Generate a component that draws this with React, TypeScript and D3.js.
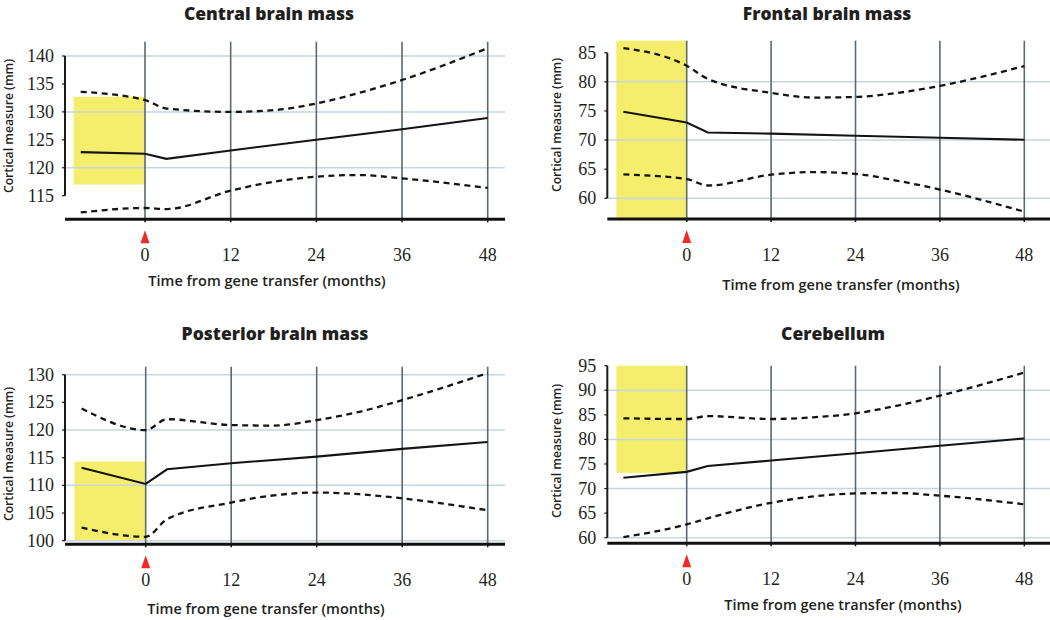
import React from "react";
import * as d3 from "d3";

// months for the mean line and for the dashed bounds
const meanMonths = [-9, 0, 3, 12, 24, 36, 48];
const bandMonths = [-9, 0, 3, 12, 18, 24, 30, 36, 48];
const xTicks = [0, 12, 24, 36, 48];

const titles = ["Central brain mass", "Frontal brain mass", "Posterior brain mass", "Cerebellum"];

const centralMean = [122.8, 122.5, 121.6, 123.1, 125.0, 126.9, 128.9];
const centralUpper = [133.6, 132.1, 130.6, 130.0, 130.3, 131.5, 133.4, 135.7, 141.4];
const centralLower = [112.0, 112.8, 112.6, 115.9, 117.5, 118.4, 118.7, 118.1, 116.4];

const frontalMean = [74.85, 73.0, 71.3, 71.1, 70.75, 70.4, 70.05];
const frontalUpper = [85.8, 82.75, 80.5, 78.1, 77.3, 77.4, 78.1, 79.3, 82.7];
const frontalLower = [64.1, 63.3, 62.2, 64.05, 64.5, 64.2, 63.0, 61.5, 57.7];

const posteriorMean = [113.2, 110.25, 112.9, 114.0, 115.2, 116.6, 117.85];
const posteriorUpper = [123.9, 120.0, 121.95, 120.9, 120.8, 121.8, 123.3, 125.4, 130.3];
const posteriorLower = [102.35, 100.7, 103.9, 106.9, 108.2, 108.7, 108.4, 107.65, 105.5];

const cerebellumMean = [72.2, 73.4, 74.6, 75.7, 77.2, 78.7, 80.2];
const cerebellumUpper = [84.3, 84.15, 84.75, 84.15, 84.5, 85.3, 86.9, 88.9, 93.6];
const cerebellumLower = [60.1, 62.7, 63.95, 67.1, 68.4, 69.0, 69.1, 68.55, 66.8];

// y tick ranges [min, max] (step 5) and pre-treatment shaded band [from month, to month, low, high]
const yTickRanges = [[115, 140], [60, 85], [100, 130], [60, 95]];
const shadeBands = [
  [-10, 0, 117, 132.7],
  [-10, 0, 56.4, 87.1],
  [-10, 0, 100, 114.3],
  [-10, 0, 73.2, 95],
];

const series = [
  { mean: centralMean, upper: centralUpper, lower: centralLower },
  { mean: frontalMean, upper: frontalUpper, lower: frontalLower },
  { mean: posteriorMean, upper: posteriorUpper, lower: posteriorLower },
  { mean: cerebellumMean, upper: cerebellumUpper, lower: cerebellumLower },
];

// pixel layout for each panel
const layout = [
  { axisX: 65, x0: 145, x48: 487.7, right: 505, yLoPx: 195.7, yHiPx: 56, top: 41.7, bottom: 219.3,
    titleX: 269, titleY: 20, xTitleX: 267, xTitleY: 286, yTitleX: 13, yTitleY: 126 },
  { axisX: 607.3, x0: 686.7, x48: 1024.3, right: 1050, yLoPx: 198.3, yHiPx: 52.7, top: 40.7, bottom: 219,
    titleX: 827, titleY: 20, xTitleX: 841, xTitleY: 290, yTitleX: 561, yTitleY: 125 },
  { axisX: 65, x0: 145.7, x48: 487.7, right: 505, yLoPx: 540.7, yHiPx: 374.7, top: 366.7, bottom: 544.3,
    titleX: 275, titleY: 340, xTitleX: 266, xTitleY: 614, yTitleX: 13, yTitleY: 454 },
  { axisX: 607.3, x0: 686.7, x48: 1024.3, right: 1050, yLoPx: 537.7, yHiPx: 365.7, top: 365.7, bottom: 543.3,
    titleX: 833, titleY: 340, xTitleX: 843, xTitleY: 610, yTitleX: 561, yTitleY: 451 },
];

const sans = "'Open Sans', 'DejaVu Sans', sans-serif";
const serif = "'Liberation Serif', 'DejaVu Serif', serif";

function Panel({ i }: { i: number }) {
  const L = layout[i];
  const [lo, hi] = yTickRanges[i];
  const s = series[i];
  const x = d3.scaleLinear().domain([0, 48]).range([L.x0, L.x48]);
  const y = d3.scaleLinear().domain([lo, hi]).range([L.yLoPx, L.yHiPx]);
  const yTicks = d3.range(lo, hi + 0.1, 5);
  const grid = yTicks.filter((v) => v % 10 === 0);

  const meanLine = d3.line<number>().x((_, k) => x(meanMonths[k])).y((v) => y(v));
  const bandLine = d3
    .line<number>()
    .x((_, k) => x(bandMonths[k]))
    .y((v) => y(v))
    .curve(d3.curveMonotoneX);

  const [m0, m1, b0, b1] = shadeBands[i];
  const shadeTop = Math.max(y(b1), L.top);
  const shadeBot = Math.min(y(b0), L.bottom);

  return (
    <g>
      <text x={L.titleX} y={L.titleY} textAnchor="middle" fontFamily={sans} fontWeight={800}
        fontSize={17.5} fill="#231f20">{titles[i]}</text>
      <rect x={x(m0)} y={shadeTop} width={x(m1) - x(m0)} height={shadeBot - shadeTop} fill="#f5ee6c" />
      {grid.map((v) => (
        <line key={"h" + v} x1={L.axisX} x2={L.right} y1={y(v)} y2={y(v)} stroke="#c7d5de" strokeWidth={1.5} />
      ))}
      {xTicks.map((t) => (
        <line key={"v" + t} x1={x(t)} x2={x(t)} y1={L.top} y2={L.bottom} stroke="#5d6870" strokeWidth={1.6} />
      ))}
      <path d={bandLine(s.upper) || ""} fill="none" stroke="#141414" strokeWidth={2.3} strokeDasharray="6,4.5" />
      <path d={bandLine(s.lower) || ""} fill="none" stroke="#141414" strokeWidth={2.3} strokeDasharray="6,4.5" />
      <path d={meanLine(s.mean) || ""} fill="none" stroke="#141414" strokeWidth={2.1} />
      {/* y axis */}
      <line x1={L.axisX} x2={L.axisX} y1={y(hi)} y2={y(lo)} stroke="#1a1a1a" strokeWidth={2} />
      {yTicks.map((v) => (
        <g key={"yt" + v}>
          <line x1={L.axisX - 3} x2={L.axisX} y1={y(v)} y2={y(v)} stroke="#1a1a1a" strokeWidth={1.2} />
          <text x={L.axisX - 11} y={y(v) + 6} textAnchor="end" fontFamily={serif} fontSize={18} fill="#231f20">
            {v}
          </text>
        </g>
      ))}
      {/* x axis */}
      <line x1={L.axisX} x2={L.right} y1={L.bottom} y2={L.bottom} stroke="#111" strokeWidth={3} />
      {xTicks.map((t) => (
        <g key={"xt" + t}>
          <line x1={x(t)} x2={x(t)} y1={L.bottom} y2={L.bottom + 3} stroke="#111" strokeWidth={1.5} />
          <text x={x(t)} y={L.bottom + 42} textAnchor="middle" fontFamily={serif} fontSize={18} fill="#231f20">
            {t}
          </text>
        </g>
      ))}
      <path
        d={`M${x(0)},${L.bottom + 11} L${x(0) + 4.5},${L.bottom + 24} L${x(0) - 4.5},${L.bottom + 24} Z`}
        fill="#ee2a24"
      />
      <text x={L.xTitleX} y={L.xTitleY} textAnchor="middle" fontFamily={sans} fontWeight={600}
        fontSize={14.5} fill="#231f20">Time from gene transfer (months)</text>
      <text transform={`translate(${L.yTitleX},${L.yTitleY}) rotate(-90)`} textAnchor="middle"
        fontFamily={sans} fontWeight={600} fontSize={12.2} fill="#231f20">Cortical measure (mm)</text>
    </g>
  );
}

export default function App() {
  return (
    <svg width={1050} height={620} style={{ position: "absolute", left: 0, top: 0, background: "#fff" }}>
      {[0, 1, 2, 3].map((i) => (
        <Panel key={i} i={i} />
      ))}
    </svg>
  );
}
